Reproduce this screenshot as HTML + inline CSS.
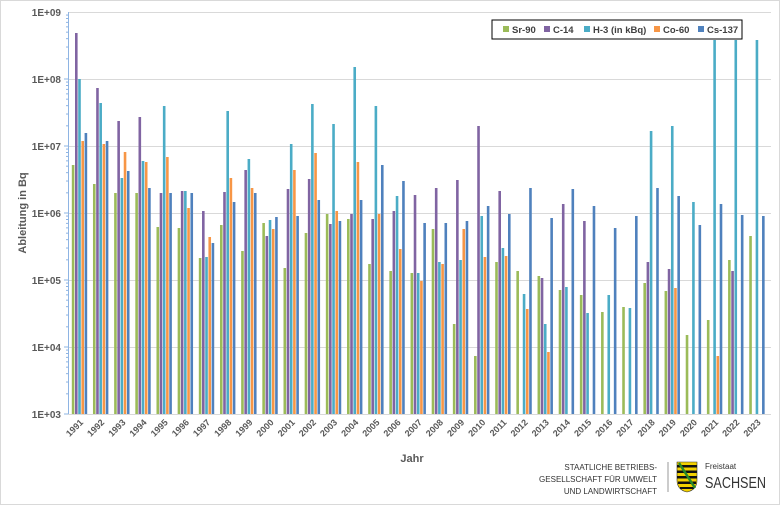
<!DOCTYPE html>
<html><head><meta charset="utf-8"><style>
body{margin:0;background:#fff}
svg{display:block;font-family:"Liberation Sans",sans-serif}
</style></head><body>
<svg id="s" width="780" height="505" viewBox="0 0 780 505" xmlns="http://www.w3.org/2000/svg">
<rect x="0.5" y="0.5" width="779" height="504" fill="#fff" stroke="#d9d9d9"/>
<g id="grid" stroke="#d9d9d9" stroke-width="1"></g>
<g id="bars"></g>
<g id="axis" stroke="#8eb4e3" stroke-width="1"></g>
<g font-size="10" font-weight="bold" fill="#595959" text-anchor="end">
<text x="61" y="16">1E+09</text>
<text x="61" y="83">1E+08</text>
<text x="61" y="150">1E+07</text>
<text x="61" y="217">1E+06</text>
<text x="61" y="284">1E+05</text>
<text x="61" y="351">1E+04</text>
<text x="61" y="418">1E+03</text>
</g>
<text transform="translate(26,213) rotate(-90)" font-size="11" font-weight="bold" fill="#595959" text-anchor="middle">Ableitung in Bq</text>
<g id="xl" font-size="9" font-weight="bold" fill="#595959" text-anchor="end"></g>
<text x="412" y="462" font-size="11" font-weight="bold" fill="#595959" text-anchor="middle">Jahr</text>
<rect x="492" y="20" width="250" height="19" fill="#fff" stroke="#000" stroke-width="1"/>
<g font-size="9.5" font-weight="bold" fill="#404040">
<rect x="503" y="26" width="6" height="6" fill="#9bbb59"/><text x="512" y="33">Sr-90</text>
<rect x="544" y="26" width="6" height="6" fill="#8064a2"/><text x="553" y="33">C-14</text>
<rect x="584" y="26" width="6" height="6" fill="#4bacc6"/><text x="593" y="33">H-3 (in kBq)</text>
<rect x="654" y="26" width="6" height="6" fill="#f79646"/><text x="663" y="33">Co-60</text>
<rect x="698" y="26" width="6" height="6" fill="#4f81bd"/><text x="707" y="33">Cs-137</text>
</g>
<g font-size="8" fill="#333" text-anchor="end">
<text x="657" y="470">STAATLICHE BETRIEBS-</text>
<text x="657" y="482">GESELLSCHAFT FÜR UMWELT</text>
<text x="657" y="494">UND LANDWIRTSCHAFT</text>
</g>
<line x1="668" y1="462" x2="668" y2="492" stroke="#999"/>
<path d="M677 462 H697 V480 Q697 490 687 492 Q677 490 677 480 Z" fill="#f2d000" stroke="#333" stroke-width="0.6"/>
<g fill="#111"><rect x="677" y="465" width="20" height="2.5"/><rect x="677" y="470.5" width="20" height="2.5"/><rect x="677" y="476" width="20" height="2.5"/><rect x="678" y="481.5" width="18" height="2.5"/><rect x="680" y="487" width="14" height="2"/></g>
<path d="M679 463 L695 488" stroke="#2a8a2a" stroke-width="2.5"/>
<text x="705" y="469" font-size="8" fill="#333">Freistaat</text>
<text x="705" y="488" font-size="16" fill="#333" textLength="61" lengthAdjust="spacingAndGlyphs">SACHSEN</text>
</svg>
<script>
var NS="http://www.w3.org/2000/svg";
function el(p,t,a){var e=document.createElementNS(NS,t);for(var k in a)e.setAttribute(k,a[k]);p.appendChild(e);return e;}
var grid=document.getElementById("grid"),axis=document.getElementById("axis"),bars=document.getElementById("bars"),xl=document.getElementById("xl");
for(var d=0;d<6;d++){var y=12+d*67;el(grid,"line",{x1:68,x2:771,y1:y+0.5,y2:y+0.5});}
el(axis,"line",{x1:68.5,x2:68.5,y1:12,y2:414});
el(axis,"line",{x1:68,x2:771,y1:414.5,y2:414.5,stroke:"#d9d9d9"});
for(var d=0;d<6;d++){for(var m=1;m<10;m++){var y=12+(d+1)*67-Math.log10(m)*67;el(axis,"line",{x1:m==1?64:66,x2:68,y1:y,y2:y});}}
var C=["#9bbb59","#8064a2","#4bacc6","#f79646","#4f81bd"];
var D=[
[165,33,79,141,133],[184,88,103,144,141],[193,121,178,152,171],[193,117,161,162,188],
[227,193,106,157,193],[228,191,191,208,193],[258,211,257,237,243],[225,192,111,178,202],
[251,170,159,188,193],[223,236,220,229,217],[268,189,144,170,216],[233,179,104,153,200],
[214,224,124,211,221],[219,214,67,162,200],[264,219,106,214,165],[271,211,196,249,181],
[273,195,273,281,223],[229,188,262,264,223],[324,180,260,229,221],[356,126,216,257,206],
[262,191,248,256,214],[271,0,294,309,188],[276,278,324,352,218],[290,204,287,0,189],
[295,221,313,0,206],[312,0,295,0,228],[307,0,308,0,216],[283,262,131,0,188],
[291,269,126,288,196],[335,0,202,0,225],[320,0,40,356,204],[260,271,40,0,215],[236,0,40,0,216]];
for(var i=0;i<33;i++){
 for(var s=0;s<5;s++){var t=D[i][s];if(!t)continue;var x=71.8+i*21.17+s*3.2;
  el(bars,"rect",{x:x,y:t,width:2.6,height:414-t,fill:C[s]});}
 var cx=71.8+i*21.17+8;
 var tx=el(xl,"text",{transform:"translate("+(cx+4)+",423) rotate(-45)"});tx.textContent=1991+i;
}
</script>
</body></html>
